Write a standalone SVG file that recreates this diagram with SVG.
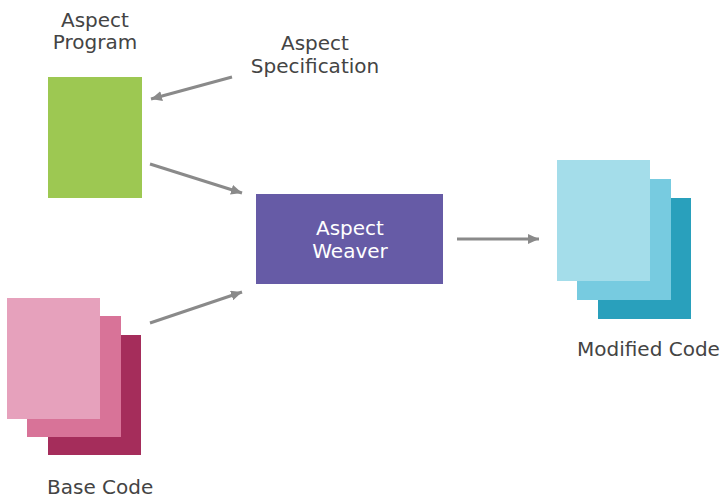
<svg xmlns="http://www.w3.org/2000/svg" width="725" height="500" viewBox="0 0 725 500">
<defs>
<style>
.lbl{font-family:"DejaVu Sans","Liberation Sans",sans-serif;font-size:20px;fill:#444444}
.wl{font-family:"DejaVu Sans","Liberation Sans",sans-serif;font-size:20px;fill:#ffffff}
.conn{stroke:#8a8a8a;stroke-width:3;fill:none;marker-end:url(#ah)}
</style>
<marker id="ah" markerUnits="userSpaceOnUse" markerWidth="12" markerHeight="10" refX="11" refY="5" orient="auto">
<path d="M0,0 L11,5 L0,10 Z" fill="#8a8a8a"/>
</marker>
</defs>
<rect width="725" height="500" fill="#ffffff"/>
<g id="aspect-program">
<rect x="48" y="77" width="94" height="121" fill="#9DC852"/>
<text class="lbl" text-anchor="middle"><tspan x="95" y="27">Aspect</tspan><tspan x="95" y="49">Program</tspan></text>
</g>
<g id="aspect-specification">
<text class="lbl" text-anchor="middle"><tspan x="315" y="50">Aspect</tspan><tspan x="315" y="73">Specification</tspan></text>
</g>
<g id="aspect-weaver">
<rect x="256" y="194" width="187" height="90" fill="#665BA6"/>
<text class="wl" text-anchor="middle"><tspan x="350" y="235">Aspect</tspan><tspan x="350" y="258">Weaver</tspan></text>
</g>
<g id="base-code">
<rect x="48" y="335" width="93" height="120" fill="#A52D5B"/>
<rect x="27" y="316" width="94" height="121" fill="#D87398"/>
<rect x="7" y="298" width="93" height="121" fill="#E6A1BC"/>
<text class="lbl" x="47" y="494">Base Code</text>
</g>
<g id="modified-code">
<rect x="598" y="198" width="93" height="121" fill="#29A0BC"/>
<rect x="577" y="179" width="94" height="121" fill="#77CBE0"/>
<rect x="557" y="160" width="93" height="121" fill="#A4DDEA"/>
<text class="lbl" x="577" y="356">Modified Code</text>
</g>
<g id="connectors">
<line class="conn" x1="232" y1="77" x2="151" y2="99"/>
<line class="conn" x1="150" y1="164" x2="242" y2="193"/>
<line class="conn" x1="150" y1="323" x2="242" y2="292"/>
<line class="conn" x1="457" y1="239" x2="539" y2="239"/>
</g>
</svg>
